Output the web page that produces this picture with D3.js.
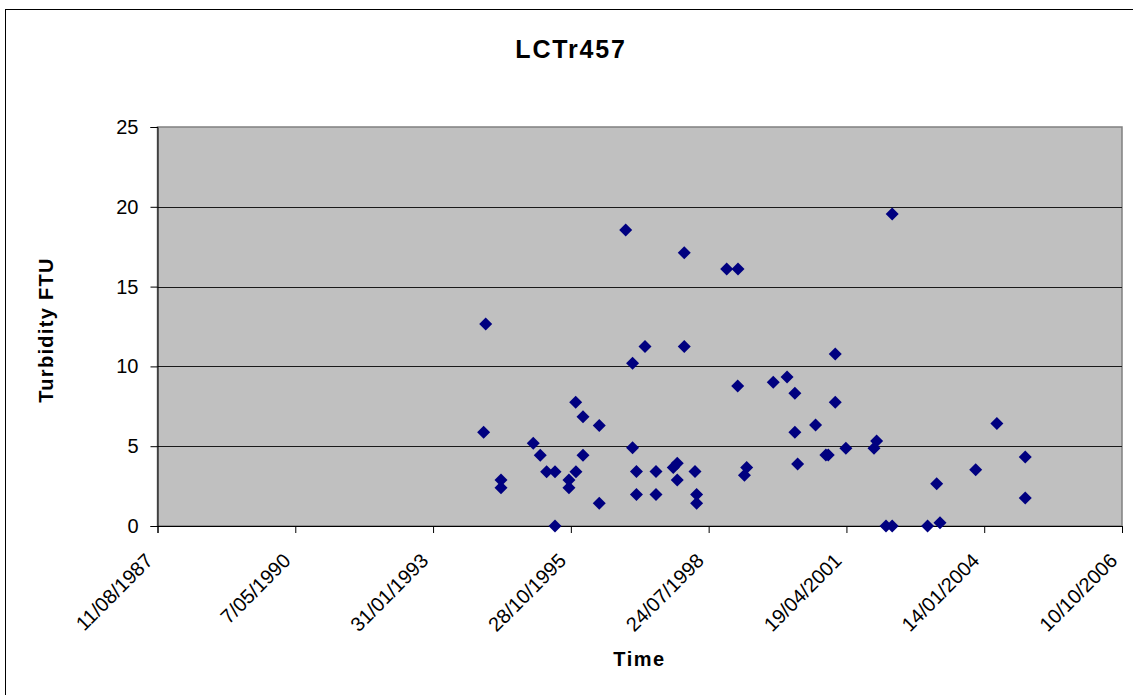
<!DOCTYPE html>
<html>
<head>
<meta charset="utf-8">
<script src="https://cdn.jsdelivr.net/npm/d3@7"></script>
<style>
  html, body { margin: 0; padding: 0; background: #fff; }
  svg { display: block; }
  text { font-family: Arial, "Liberation Sans", sans-serif; fill: #000; }
</style>
</head>
<body>
<svg id="chart" width="1133" height="695"></svg>
<script>
const title = "LCTr457";
const xTitle = "Time";
const yTitle = "Turbidity FTU";

const sampleDates = [
  "1994-02-17","1994-02-02","1994-06-08","1994-06-08","1995-01-28","1995-03-20",
  "1995-05-05","1995-07-05","1995-07-05","1995-10-14","1995-10-14","1995-12-04",
  "1995-12-02","1996-01-24","1996-01-24","1996-05-21","1996-05-21","1996-11-29",
  "1997-01-18","1997-01-18","1997-02-15","1997-02-15","1997-04-18","1997-07-07",
  "1997-07-07","1997-11-09","1997-12-08","1997-12-08","1998-01-28","1998-01-28",
  "1998-04-16","1998-04-28","1998-04-28","1998-12-02","1999-02-22","1999-02-20",
  "1999-04-26","1999-04-10","1999-11-05","2000-02-13","2000-04-10","2000-04-10",
  "2000-04-30","2000-09-07","2000-11-21","2000-12-08","2001-01-28","2001-01-28",
  "2001-04-15","2001-11-05","2001-11-24","2002-01-31","2002-03-17","2002-03-17",
  "2002-11-29","2003-02-27","2003-02-03","2003-11-13","2004-04-15","2004-11-07",
  "2004-11-07"
];
const turbidity = [
  12.66,5.87,2.88,2.4,5.18,4.43,
  3.4,3.4,0,2.88,2.4,3.4,
  7.75,6.85,4.43,6.3,1.42,18.55,
  10.2,4.9,3.42,1.98,11.24,3.42,
  1.98,3.67,3.93,2.88,17.12,11.24,
  3.42,1.98,1.42,16.1,16.1,8.77,
  3.67,3.18,9.0,9.34,8.31,5.87,
  3.88,6.33,4.45,4.45,10.78,7.75,
  4.87,4.87,5.33,0,0,19.55,
  0,0.2,2.65,3.53,6.43,4.32,
  1.75
];

const xTickDates = ["1987-08-11","1990-05-07","1993-01-31","1995-10-28","1998-07-24","2001-04-19","2004-01-14","2006-10-10"];
const xTickLabels = ["11/08/1987","7/05/1990","31/01/1993","28/10/1995","24/07/1998","19/04/2001","14/01/2004","10/10/2006"];
const yTicks = [0, 5, 10, 15, 20, 25];

const parse = d3.utcParse("%Y-%m-%d");
const data = sampleDates.map((d, i) => ({ date: parse(d), value: turbidity[i] }));
const tickDates = xTickDates.map(parse);

const plot = { left: 157.5, right: 1122, top: 127, bottom: 526 };

const x = d3.scaleUtc()
  .domain([tickDates[0], tickDates[tickDates.length - 1]])
  .range([plot.left, plot.right]);
const y = d3.scaleLinear().domain([0, 25]).range([plot.bottom, plot.top]);

const svg = d3.select("#chart");

svg.append("rect")
  .attr("x", 5.5).attr("y", 9.5)
  .attr("width", 1150).attr("height", 700)
  .attr("fill", "#fff").attr("stroke", "#000").attr("stroke-width", 1);

svg.append("rect")
  .attr("x", plot.left).attr("y", plot.top)
  .attr("width", plot.right - plot.left).attr("height", plot.bottom - plot.top)
  .attr("fill", "#C0C0C0").attr("stroke", "#808080").attr("stroke-width", 1.5);

svg.append("g").selectAll("line")
  .data(yTicks.filter(t => t > 0 && t < 25))
  .join("line")
  .attr("x1", plot.left).attr("x2", plot.right)
  .attr("y1", d => Math.round(y(d)) + 0.5).attr("y2", d => Math.round(y(d)) + 0.5)
  .attr("stroke", "#1a1a1a").attr("stroke-width", 1);

const yAxis = svg.append("g")
  .attr("transform", `translate(${plot.left},0)`)
  .call(d3.axisLeft(y).tickValues(yTicks).tickSize(7).tickPadding(12).tickFormat(d3.format("d")));
yAxis.select(".domain").attr("stroke", "#000");
yAxis.selectAll(".tick line").attr("stroke", "#000");
yAxis.selectAll(".tick text")
  .style("font-size", "20px")
  .style("font-family", "Arial, 'Liberation Sans', sans-serif")
  .attr("fill", "#000");

const xAxis = svg.append("g")
  .attr("transform", `translate(0,${plot.bottom})`)
  .call(d3.axisBottom(x).tickValues(tickDates).tickSize(7)
    .tickFormat((d, i) => xTickLabels[i]));
xAxis.select(".domain").attr("stroke", "#000");
xAxis.selectAll(".tick line").attr("stroke", "#000");
xAxis.selectAll(".tick text")
  .style("font-size", "20px")
  .style("font-family", "Arial, 'Liberation Sans', sans-serif")
  .attr("fill", "#000")
  .attr("text-anchor", "end")
  .attr("y", 0).attr("dy", 0)
  .attr("transform", "translate(-4,36) rotate(-45)");

const diamond = "M0,-6.5L6.5,0L0,6.5L-6.5,0Z";
svg.append("g").selectAll("path")
  .data(data)
  .join("path")
  .attr("d", diamond)
  .attr("transform", d => `translate(${x(d.date)},${y(d.value)})`)
  .attr("fill", "#000080");

svg.append("text")
  .attr("x", 571).attr("y", 58)
  .attr("text-anchor", "middle")
  .style("font-size", "25px").style("font-weight", "bold")
  .style("letter-spacing", "1.8px")
  .text(title);

svg.append("text")
  .attr("x", 639.5).attr("y", 666)
  .attr("text-anchor", "middle")
  .style("font-size", "20px").style("font-weight", "bold")
  .style("letter-spacing", "1.5px")
  .text(xTitle);

svg.append("text")
  .attr("transform", "translate(53,330) rotate(-90)")
  .attr("text-anchor", "middle")
  .style("font-size", "20px").style("font-weight", "bold")
  .style("letter-spacing", "1.3px")
  .text(yTitle);
</script>
</body>
</html>
